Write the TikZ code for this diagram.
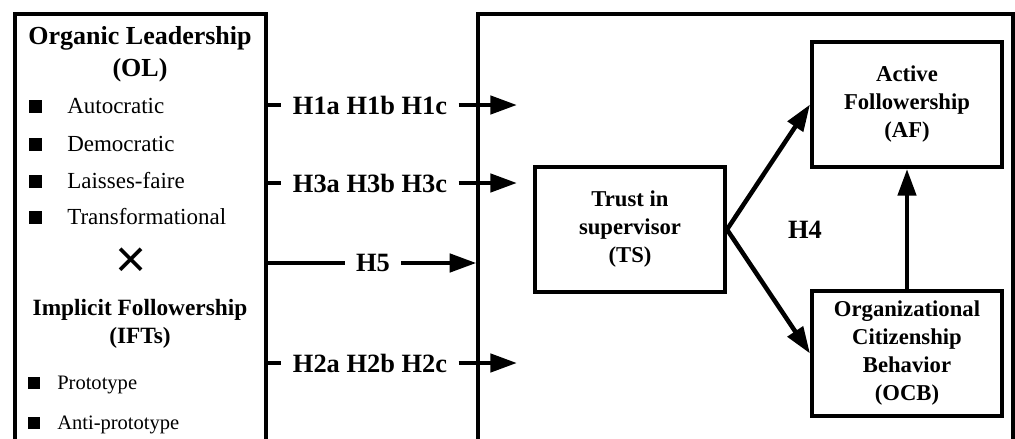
\documentclass[tikz,border=0pt]{standalone}
\usepackage{fontspec}
\setmainfont{Liberation Serif}
\newfontfamily\crossfont{Liberation Sans}
\usetikzlibrary{arrows.meta}
\tikzset{
	outerbox/.style={draw, line width=2.4pt, inner sep=0pt},
	varbox/.style={draw, line width=3pt, minimum width=142.5pt, minimum height=93.75pt, align=center, font=\fontsize{17}{21}\selectfont\bfseries},
	hyp/.style={font=\fontsize{19.8}{24}\selectfont\bfseries, inner xsep=8.5pt, inner ysep=0pt},
	item/.style={inner sep=0pt, anchor=base west, font=\fontsize{17.25}{20}\selectfont},
	smallitem/.style={inner sep=0pt, anchor=base west, font=\fontsize{15.4}{18}\selectfont},
	link/.style={line width=3.4pt, -{Triangle[length=20pt,width=13.5pt]}},
	stub/.style={line width=3.4pt},
}
\newcommand{\sqbullet}{\rule[0.3pt]{9.5pt}{9.5pt}}
\newcommand{\smallsq}{\rule[0.3pt]{9pt}{9pt}}
\begin{document}
\begin{tikzpicture}[x=0.75pt,y=-0.75pt]
	\useasboundingbox (0,0) rectangle (1015,439);
	\clip (0,0) rectangle (1015,439);
	% the two frames, both run past the lower edge
	\node[outerbox, minimum width=188.25pt, minimum height=334.5pt] (lead) at (140.5,237) {};
	\node[outerbox, minimum width=401.25pt, minimum height=334.5pt] (model) at (745.5,237) {};
	% leadership side
	\node[align=center, font=\fontsize{19.5}{24}\selectfont\bfseries] (olhead) at (140,54) {Organic Leadership\\(OL)};
	\node[item] (auto) at (29,113) {\sqbullet\hspace{19pt}Autocratic};
	\node[item] (demo) at (29,151) {\sqbullet\hspace{19pt}Democratic};
	\node[item] (laisses) at (29,188) {\sqbullet\hspace{19pt}Laisses-faire};
	\node[item] (transf) at (29,224) {\sqbullet\hspace{19pt}Transformational};
	\node[font=\crossfont\fontsize{40}{40}\selectfont] (cross) at (131,263) {×};
	\node[align=center, font=\fontsize{17.5}{21}\selectfont\bfseries] (ifthead) at (140,324) {Implicit Followership\\(IFTs)};
	\node[smallitem] (proto) at (28,389) {\smallsq\hspace{12.75pt}Prototype};
	\node[smallitem] (anti) at (28,429) {\smallsq\hspace{12.75pt}Anti-prototype};
	% hypotheses
	\node[hyp] (hone) at (370,105) {H1a H1b H1c};
	\node[hyp] (hthree) at (370,183) {H3a H3b H3c};
	\node[hyp] (hfive) at (373,263) {H5};
	\node[hyp] (htwo) at (370,363) {H2a H2b H2c};
	\coordinate (aone) at (517,105);
	\coordinate (athree) at (517,183);
	\coordinate (atwo) at (517,363);
	\draw[stub] (lead.east |- hone) -- (hone.west);
	\draw[stub] (lead.east |- hthree) -- (hthree.west);
	\draw[stub] (lead.east |- hfive) -- (hfive.west);
	\draw[stub] (lead.east |- htwo) -- (htwo.west);
	\draw[link] (hone.east) -- (aone);
	\draw[link] (hthree.east) -- (athree);
	\draw[link] (hfive.east) -- (model.west |- hfive);
	\draw[link] (htwo.east) -- (atwo);
	% mediation model
	\node[varbox] (ts) at (630,229.5) {Trust in\\supervisor\\(TS)};
	\node[varbox] (af) at (907,104.5) {Active\\Followership\\(AF)};
	\node[varbox] (ocb) at (907,353.5) {Organizational\\Citizenship\\Behavior\\(OCB)};
	\node[font=\fontsize{19.8}{24}\selectfont\bfseries] (hfour) at (805,230) {H4};
	\draw[link] (ts.east) -- (af.west);
	\draw[link] (ts.east) -- (ocb.west);
	\draw[link] (ocb.north) -- (af.south);
\end{tikzpicture}
\end{document}
